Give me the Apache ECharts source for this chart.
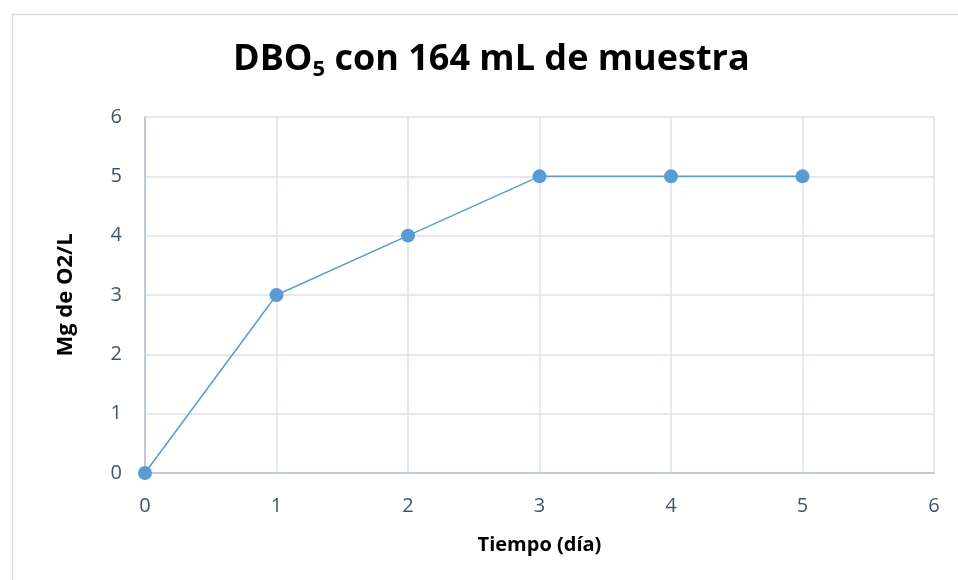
<!DOCTYPE html>
<html>
<head>
<meta charset="utf-8">
<script src="https://cdn.jsdelivr.net/npm/echarts@6/dist/echarts.min.js"></script>
<style>
  html, body { margin: 0; padding: 0; background: #fff; }
  #chart { width: 958px; height: 580px; }
</style>
</head>
<body>
<div id="chart"></div>
<script>
// Días de incubación y oxígeno consumido (mg O2/L)
const dias = [0, 1, 2, 3, 4, 5];
const oxigeno = [0, 3, 4, 5, 5, 5];

const chart = echarts.init(document.getElementById('chart'));
const tickColor = '#44546a';
const font = '"Open Sans", "Noto Sans", sans-serif';

chart.setOption({
  animation: false,
  graphic: [{
    type: 'rect',
    left: 10, top: 12,
    shape: { width: 980, height: 600 },
    style: { fill: 'none', stroke: '#d9dee6', lineWidth: 1.5 },
    silent: true
  }],
  title: {
    text: 'DBO{sub|5} con 164 mL de muestra',
    left: 228,
    top: 34,
    textStyle: {
      fontFamily: font,
      fontWeight: 'bold',
      fontSize: 36,
      color: '#000',
      rich: {
        sub: {
          fontFamily: font,
          fontWeight: 'bold',
          fontSize: 22,
          color: '#000',
          padding: [20, 0, 0, 0]
        }
      }
    }
  },
  grid: { left: 145, right: 24, top: 117, bottom: 107 },
  xAxis: {
    type: 'value',
    min: 0, max: 6, interval: 1,
    name: 'Tiempo (día)',
    nameLocation: 'middle',
    nameGap: 62,
    nameTextStyle: { fontFamily: font, fontWeight: 'bold', fontSize: 20, color: '#000' },
    axisLine: { show: true, lineStyle: { color: '#b4bfcf', width: 1.5 } },
    axisTick: { show: false },
    axisLabel: { fontFamily: font, fontSize: 20, color: tickColor, margin: 23 },
    splitLine: { show: true, lineStyle: { color: '#dde2ea', width: 1.5 } }
  },
  yAxis: {
    type: 'value',
    min: 0, max: 6, interval: 1,
    name: 'Mg de O2/L',
    nameLocation: 'middle',
    nameGap: 68,
    nameTextStyle: { fontFamily: font, fontWeight: 'bold', fontSize: 22, color: '#000' },
    axisLine: { show: true, lineStyle: { color: '#b4bfcf', width: 1.5 } },
    axisTick: { show: false },
    axisLabel: { fontFamily: font, fontSize: 20, color: tickColor, margin: 23 },
    splitLine: { show: true, lineStyle: { color: '#dde2ea', width: 1.5 } }
  },
  series: [{
    type: 'line',
    data: dias.map((d, i) => [d, oxigeno[i]]),
    symbol: 'circle',
    symbolSize: 14,
    lineStyle: { color: '#5b9bd5', width: 1.5 },
    itemStyle: { color: '#5b9bd5' }
  }]
});
</script>
</body>
</html>
